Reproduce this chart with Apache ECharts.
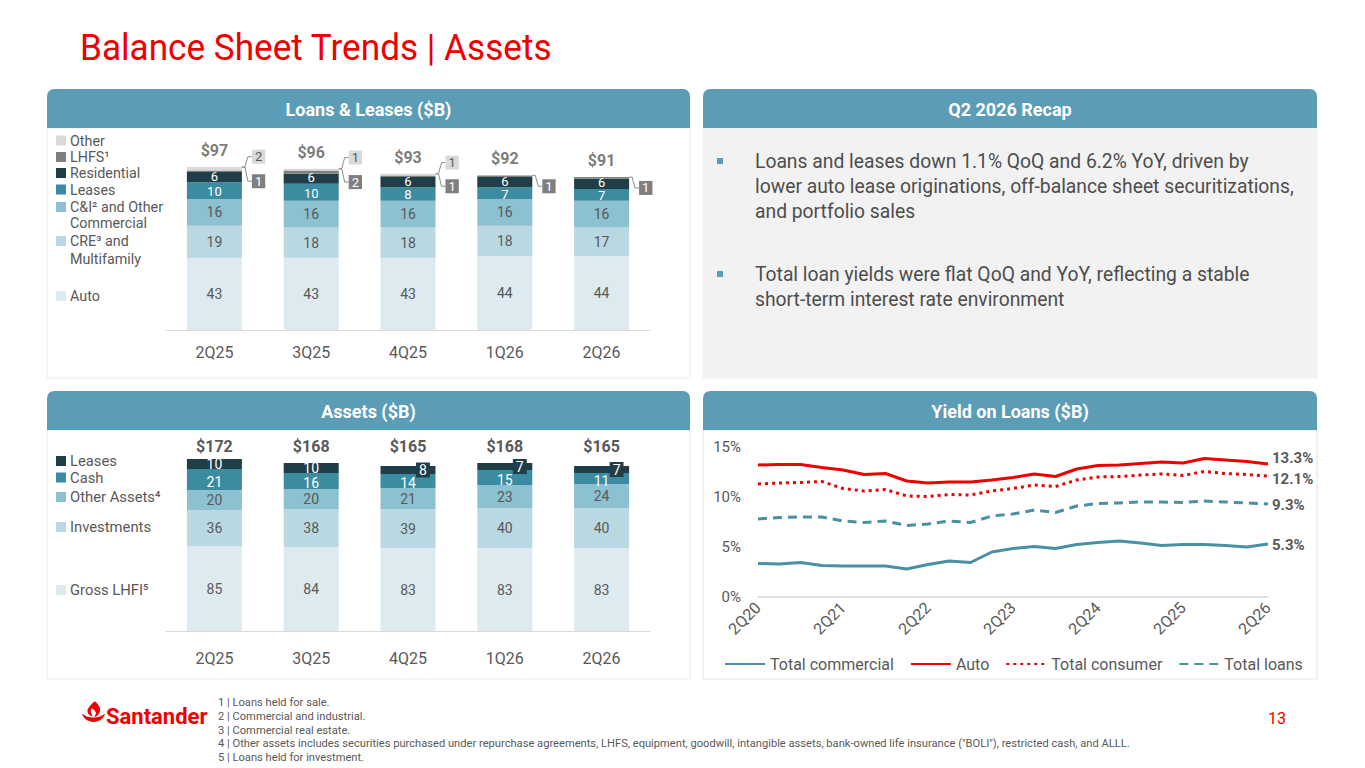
<!DOCTYPE html>
<html>
<head>
<meta charset="utf-8">
<title>Balance Sheet Trends | Assets</title>
<script src="https://cdn.jsdelivr.net/npm/echarts@6/dist/echarts.min.js"></script>
<style>
html,body{margin:0;padding:0;background:#fff;overflow:hidden;}
#chart{width:1365px;height:768px;}
</style>
</head>
<body>
<div id="chart"></div>
<script>
// ---------------- data ----------------
const quarters = ['2Q25', '3Q25', '4Q25', '1Q26', '2Q26'];

// Loans & Leases ($B)
const loanAuto        = [43, 43, 43, 44, 44];
const loanCRE         = [19, 18, 18, 18, 17];
const loanCI          = [16, 16, 16, 16, 16];
const loanLeases      = [10, 10, 8, 7, 7];
const loanResidential = [6, 6, 6, 6, 6];
const loanLHFS        = [1, 2, 1, 1, 1];
const loanOther       = [2, 1, 1, 0, 0];
const loanTotals      = [97, 96, 93, 92, 91];

// Assets ($B)
const assetGrossLHFI = [85, 84, 83, 83, 83];
const assetInvest    = [36, 38, 39, 40, 40];
const assetOther     = [20, 20, 21, 23, 24];
const assetCash      = [21, 16, 14, 15, 11];
const assetLeases    = [10, 10, 8, 7, 7];
const assetTotals    = [172, 168, 165, 168, 165];

// Yield on loans (%)
const yieldQuarters = ['2Q20','3Q20','4Q20','1Q21','2Q21','3Q21','4Q21','1Q22','2Q22','3Q22','4Q22','1Q23',
  '2Q23','3Q23','4Q23','1Q24','2Q24','3Q24','4Q24','1Q25','2Q25','3Q25','4Q25','1Q26','2Q26'];
const yieldCommercial = [3.35, 3.3, 3.45, 3.15, 3.1, 3.1, 3.1, 2.8, 3.25, 3.6, 3.45, 4.5, 4.85, 5.05, 4.85,
  5.25, 5.45, 5.6, 5.4, 5.15, 5.25, 5.25, 5.15, 5.0, 5.3];
const yieldAuto = [13.2, 13.25, 13.25, 12.95, 12.7, 12.25, 12.35, 11.6, 11.4, 11.5, 11.5, 11.7, 11.95,
  12.3, 12.05, 12.8, 13.15, 13.2, 13.35, 13.5, 13.4, 13.85, 13.7, 13.55, 13.3];
const yieldConsumer = [11.3, 11.4, 11.45, 11.55, 10.85, 10.6, 10.75, 10.1, 10.05, 10.25, 10.2, 10.6, 10.85,
  11.2, 11.05, 11.7, 12.0, 12.05, 12.2, 12.3, 12.15, 12.55, 12.35, 12.25, 12.1];
const yieldTotal = [7.8, 7.95, 8.0, 8.0, 7.6, 7.45, 7.6, 7.15, 7.3, 7.6, 7.45, 8.1, 8.3, 8.7, 8.45, 9.1,
  9.35, 9.4, 9.5, 9.5, 9.45, 9.6, 9.5, 9.4, 9.3];

// names / texts
const loanNames = ['Auto', 'CRE³ and\nMultifamily', 'C&I² and Other\nCommercial', 'Leases', 'Residential', 'LHFS¹', 'Other'];
const assetNames = ['Gross LHFI⁵', 'Investments', 'Other Assets⁴', 'Cash', 'Leases'];
const yieldNames = ['Total commercial', 'Auto', 'Total consumer', 'Total loans'];
const recapBullets = [
  'Loans and leases down 1.1% QoQ and 6.2% YoY, driven by\nlower auto lease originations, off-balance sheet securitizations,\nand portfolio sales',
  'Total loan yields were flat QoQ and YoY, reflecting a stable\nshort-term interest rate environment'
];
const footnotes = [
  '1 | Loans held for sale.',
  '2 | Commercial and industrial.',
  '3 | Commercial real estate.',
  '4 | Other assets includes securities purchased under repurchase agreements, LHFS, equipment, goodwill, intangible assets, bank-owned life insurance ("BOLI"), restricted cash, and ALLL.',
  '5 | Loans held for investment.'
];

// ---------------- style ----------------
const F = 'Roboto';
const GRAY = '#595959';
const RED = '#EC0000';
const HEAD = '#5B9CB7';
const TEAL_LINE = '#4A90A5';
const loanColors = ['#DDEBF1', '#B9D8E2', '#8DC0D0', '#3B8CA1', '#1F3E48', '#7F7F7F', '#D9D9D9'];
const assetColors = ['#DDEBF1', '#B9D8E2', '#8DC0D0', '#3B8CA1', '#1F3E48'];
const BAR_W = 55;
const LBL_DIST = 10, LHFS_DY = 10, OTHER_DY = -12;

const chart = echarts.init(document.getElementById('chart'), null, { renderer: 'svg' });

function innerLabel(dark, size) {
  return { show: true, position: 'inside', color: dark ? '#fff' : GRAY, fontSize: size || 14, fontFamily: F };
}
// thin dark segments: slightly tighter labels so neighbours don't collide
const loanLabelNudge = [null, null, null, { offset: [0, 1], lineHeight: 12 }, { offset: [0, -1], lineHeight: 12 }];
const assetLabelNudge = [null, null, null, { offset: [0, 2], lineHeight: 13 }, { offset: [0, 0], lineHeight: 13 }];

const loanData = [loanAuto, loanCRE, loanCI, loanLeases, loanResidential];
const loanSeries = loanData.map((arr, k) => ({
  name: 'loans-' + k, type: 'bar', stack: 'loans', xAxisIndex: 0, yAxisIndex: 0,
  barWidth: BAR_W, data: arr, itemStyle: { color: loanColors[k] },
  label: Object.assign(innerLabel(k >= 3, k >= 3 ? 13 : 14), loanLabelNudge[k] || {}), emphasis: { disabled: true }
}));
loanSeries.push({
  name: 'loans-lhfs', type: 'bar', stack: 'loans', xAxisIndex: 0, yAxisIndex: 0, barWidth: BAR_W,
  data: loanLHFS.map(v => ({ value: v, label: { show: v > 0 } })),
  itemStyle: { color: loanColors[5] }, emphasis: { disabled: true },
  label: { show: true, position: 'right', distance: LBL_DIST, offset: [0, LHFS_DY], backgroundColor: loanColors[5],
    color: '#fff', padding: [1, 3, 0, 3], fontSize: 13, fontFamily: F }
});
loanSeries.push({
  name: 'loans-other', type: 'bar', stack: 'loans', xAxisIndex: 0, yAxisIndex: 0, barWidth: BAR_W,
  data: loanOther.map(v => ({ value: v, label: { show: v > 0 } })),
  itemStyle: { color: loanColors[6] }, emphasis: { disabled: true },
  label: { show: true, position: 'right', distance: LBL_DIST, offset: [0, OTHER_DY], backgroundColor: loanColors[6],
    color: GRAY, padding: [1, 3, 0, 3], fontSize: 13, fontFamily: F }
});
loanSeries.push({
  name: 'loans-total', type: 'scatter', xAxisIndex: 0, yAxisIndex: 0, symbolSize: 1,
  itemStyle: { color: 'rgba(0,0,0,0)' }, data: loanTotals, emphasis: { disabled: true },
  label: { show: true, position: 'top', distance: 8, formatter: p => '$' + p.value,
    color: GRAY, fontWeight: 'bold', fontSize: 16, fontFamily: F }
});

const assetData = [assetGrossLHFI, assetInvest, assetOther, assetCash];
const assetSeries = assetData.map((arr, k) => ({
  name: 'assets-' + k, type: 'bar', stack: 'assets', xAxisIndex: 1, yAxisIndex: 1,
  barWidth: BAR_W, data: arr, itemStyle: { color: assetColors[k] },
  label: Object.assign(innerLabel(k >= 3), assetLabelNudge[k] || {}), emphasis: { disabled: true }
}));
const smallBox = { position: 'inside', offset: [15, 0], backgroundColor: assetColors[4], padding: [1, 3, 0, 3], lineHeight: 14 };
assetSeries.push({
  name: 'assets-4', type: 'bar', stack: 'assets', xAxisIndex: 1, yAxisIndex: 1, barWidth: BAR_W,
  data: assetLeases.map(v => (v < 10 ? { value: v, label: smallBox } : v)),
  itemStyle: { color: assetColors[4] }, label: Object.assign(innerLabel(true), assetLabelNudge[4]), emphasis: { disabled: true }
});

const lineDefs = [
  { name: yieldNames[0], data: yieldCommercial, color: TEAL_LINE, type: 'solid', off: [0, 1] },
  { name: yieldNames[1], data: yieldAuto, color: RED, type: 'solid', off: [0, -6] },
  { name: yieldNames[2], data: yieldConsumer, color: RED, type: [3, 4], off: [0, 3] },
  { name: yieldNames[3], data: yieldTotal, color: TEAL_LINE, type: [9, 6], off: [0, 1] }
];
const lineSeries = lineDefs.map(d => ({
  name: d.name, type: 'line', xAxisIndex: 3, yAxisIndex: 2, data: d.data, symbol: 'none',
  lineStyle: { color: d.color, width: 3, type: d.type }, itemStyle: { color: d.color },
  emphasis: { disabled: true },
  endLabel: { show: true, formatter: p => Number(p.value).toFixed(1) + '%', distance: 4, offset: d.off,
    color: GRAY, fontWeight: 'bold', fontSize: 15, fontFamily: F }
}));

// ---------------- static graphics ----------------
function txt(text, x, y, opts) {
  return Object.assign({
    type: 'text', x: x, y: y, silent: true,
    style: Object.assign({ text: text, fill: GRAY, fontFamily: F, fontSize: 14,
      align: 'left', verticalAlign: 'middle', textAlign: 'left', textVerticalAlign: 'middle' }, (opts && opts.style) || {})
  }, (opts && opts.el) || {});
}
function panel(x, y, w, h, title, bodyFill, bodyStroke) {
  return [
    { type: 'rect', silent: true, shape: { x: x, y: y + 39, width: w, height: h - 39 },
      style: { fill: bodyFill, stroke: bodyStroke, lineWidth: 1 } },
    { type: 'rect', silent: true, shape: { x: x, y: y, width: w, height: 39, r: [7, 7, 0, 0] }, style: { fill: HEAD } },
    txt(title, x + w / 2, y + 20, { style: { fill: '#fff', fontWeight: 'bold', fontSize: 18, align: 'center', textAlign: 'center' } })
  ];
}
const staticGraphics = [];
staticGraphics.push(txt('Balance Sheet Trends | Assets', 80, 48, { style: { fill: RED, fontSize: 37 }, el: { scaleX: 0.95 } }));
staticGraphics.push(...panel(47, 89, 643, 289, 'Loans & Leases ($B)', '#fff', '#E3EDF1'));
staticGraphics.push(...panel(703, 89, 614, 289, 'Q2 2026 Recap', '#F2F2F2', '#F2F2F2'));
staticGraphics.push(...panel(47, 391, 643, 288, 'Assets ($B)', '#fff', '#E3EDF1'));
staticGraphics.push(...panel(703, 391, 614, 288, 'Yield on Loans ($B)', '#fff', '#E3E3E3'));

// recap bullets
const recapY = [161, 274];
recapBullets.forEach((b, i) => {
  staticGraphics.push({ type: 'rect', silent: true, shape: { x: 717, y: recapY[i] - 3, width: 6, height: 6 }, style: { fill: HEAD } });
  staticGraphics.push(txt(b, 755, recapY[i] - 12.5, { style: { fontSize: 19.3, lineHeight: 25, fill: '#4D4D4D', verticalAlign: 'top', textVerticalAlign: 'top' } }));
});

// left legends (order top-down)
const loanLegendOrder = [6, 5, 4, 3, 2, 1, 0];
const loanLegendY = [140.5, 157, 173, 189.5, 207, 241, 296];
loanLegendOrder.forEach((k, i) => {
  const y = loanLegendY[i];
  const multi = loanNames[k].indexOf('\n') >= 0;
  const lh = k === 1 ? 18 : (multi ? 15.5 : 14);
  staticGraphics.push({ type: 'rect', silent: true, shape: { x: 56, y: y - 5, width: 10, height: 10 }, style: { fill: loanColors[k] } });
  staticGraphics.push(txt(loanNames[k], 70, y - lh / 2, { style: { fontSize: 14.3, lineHeight: lh, verticalAlign: 'top', textVerticalAlign: 'top' } }));
});
const assetLegendOrder = [4, 3, 2, 1, 0];
const assetLegendY = [461, 477.5, 497, 527, 590];
assetLegendOrder.forEach((k, i) => {
  const y = assetLegendY[i];
  staticGraphics.push({ type: 'rect', silent: true, shape: { x: 56, y: y - 5, width: 10, height: 10 }, style: { fill: assetColors[k] } });
  staticGraphics.push(txt(assetNames[k], 70, y, { style: { fontSize: 14.8, lineHeight: 14 } }));
});

// footer: logo (flame + bowl), footnotes, page number
staticGraphics.push({ type: 'polygon', silent: true,
  shape: { points: [[82, 714], [86, 719.5], [93.5, 722], [101, 719.5], [105, 714], [100, 716.5], [93.5, 717.5], [87, 716.5]], smooth: 0.3 },
  style: { fill: RED } });
staticGraphics.push({ type: 'polygon', silent: true,
  shape: { points: [[95, 701.5], [99.5, 707], [100, 711.5], [97.5, 715.5], [94.5, 717], [96, 713], [94, 710], [91.5, 708.5],
    [90.8, 712], [92.5, 716.5], [88.5, 714], [87.5, 710], [90, 706]], smooth: 0.25 },
  style: { fill: RED } });
staticGraphics.push(txt('Santander', 106, 716, { style: { fill: RED, fontSize: 22, fontWeight: 'bold' } }));
staticGraphics.push(txt(footnotes.join('\n'), 218, 695.5, { style: { fontSize: 11.15, lineHeight: 13.8, verticalAlign: 'top', textVerticalAlign: 'top' } }));
staticGraphics.push(txt('13', 1277, 718, { style: { fill: RED, fontSize: 16, align: 'center', textAlign: 'center' } }));

// ---------------- option ----------------
const axisLbl = { color: GRAY, fontFamily: F };
const option = {
  animation: false,
  backgroundColor: '#fff',
  textStyle: { fontFamily: F },
  grid: [
    { left: 166, width: 484, top: 162, height: 168, outerBoundsMode: 'none' },
    { left: 166, width: 484, top: 451, height: 180, outerBoundsMode: 'none' },
    { left: 758, width: 510, top: 447, height: 150, outerBoundsMode: 'none' }
  ],
  xAxis: [
    { gridIndex: 0, type: 'category', data: quarters, axisLine: { lineStyle: { color: '#D9D9D9' } }, axisTick: { show: false },
      axisLabel: Object.assign({ fontSize: 16, margin: 14, interval: 0 }, axisLbl) },
    { gridIndex: 1, type: 'category', data: quarters, axisLine: { lineStyle: { color: '#D9D9D9' } }, axisTick: { show: false },
      axisLabel: Object.assign({ fontSize: 16, margin: 19, interval: 0 }, axisLbl) },
    { gridIndex: 1, type: 'category', position: 'top', offset: -4, data: assetTotals.map(v => '$' + v),
      axisLine: { show: false }, axisTick: { show: false },
      axisLabel: Object.assign({ fontSize: 16, margin: 0, interval: 0, fontWeight: 'bold', lineHeight: 17 }, axisLbl) },
    { gridIndex: 2, type: 'category', data: yieldQuarters, boundaryGap: false,
      axisLine: { lineStyle: { color: '#D9D9D9', width: 1.5 } }, axisTick: { show: false },
      axisLabel: Object.assign({ fontSize: 16, margin: 8, interval: 3, rotate: 45 }, axisLbl) }
  ],
  yAxis: [
    { gridIndex: 0, type: 'value', min: 0, max: 100, show: false },
    { gridIndex: 1, type: 'value', min: 0, max: 180, show: false },
    { gridIndex: 2, type: 'value', min: 0, max: 15, interval: 5, splitLine: { show: false },
      axisLine: { show: false }, axisTick: { show: false },
      axisLabel: Object.assign({ fontSize: 15, margin: 17, formatter: '{value}%' }, axisLbl) }
  ],
  legend: [{
    data: yieldNames, left: 719, top: 651, itemWidth: 40, itemHeight: 12, itemGap: 16,
    itemStyle: { color: 'rgba(0,0,0,0)', borderColor: 'rgba(0,0,0,0)', borderWidth: 0 },
    textStyle: { color: GRAY, fontSize: 16, fontFamily: F }, selectedMode: false
  }],
  graphic: { elements: staticGraphics },
  series: [...loanSeries, ...assetSeries, ...lineSeries]
};
chart.setOption(option);

// leader lines for the small LHFS / Other call-outs, positioned via the axis scales
const leaders = [];
quarters.forEach((q, i) => {
  const base = loanAuto[i] + loanCRE[i] + loanCI[i] + loanLeases[i] + loanResidential[i];
  const top = base + loanLHFS[i] + loanOther[i];
  const p = chart.convertToPixel({ xAxisIndex: 0, yAxisIndex: 0 }, [i, top]);
  const xr = p[0] + BAR_W / 2;
  const ty = p[1];
  const boxL = xr + LBL_DIST;
  const addLine = by => leaders.push({ type: 'polyline', silent: true,
    shape: { points: [[xr, ty], [xr + 3, ty], [xr + 6, by], [boxL, by]] },
    style: { stroke: '#8C8C8C', lineWidth: 1, fill: null } });
  if (loanLHFS[i] > 0) {
    addLine(chart.convertToPixel({ xAxisIndex: 0, yAxisIndex: 0 }, [i, base + loanLHFS[i] / 2])[1] + LHFS_DY);
  }
  if (loanOther[i] > 0) {
    addLine(chart.convertToPixel({ xAxisIndex: 0, yAxisIndex: 0 }, [i, base + loanLHFS[i] + loanOther[i] / 2])[1] + OTHER_DY);
  }
});
chart.setOption({ graphic: { elements: staticGraphics.concat(leaders) } });
</script>
</body>
</html>
